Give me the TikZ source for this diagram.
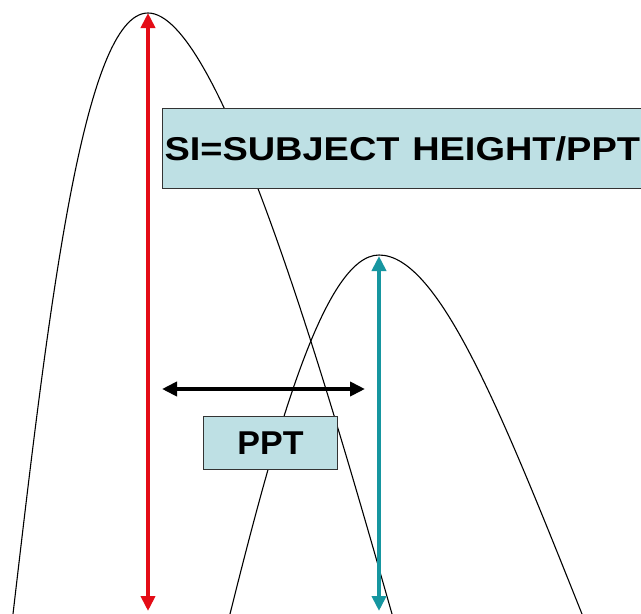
\documentclass[tikz,border=0pt]{standalone}
\usepackage{fontspec}
\setmainfont{Liberation Sans}
\usetikzlibrary{arrows.meta}
\definecolor{boxfill}{RGB}{190,224,228}
\definecolor{redarrow}{RGB}{228,12,22}
\definecolor{tealarrow}{RGB}{22,150,160}
\tikzset{
  curve/.style={draw=black, line width=1.1pt},
  labelbox/.style={draw=black!80, line width=1pt, fill=boxfill, font=\bfseries\fontsize{33}{33}\selectfont, inner sep=0pt},
  bigarrow/.style={line width=4.5pt, {Triangle[width=14pt,length=15pt]}-{Triangle[width=14pt,length=15pt]}},
}
\begin{document}
\begin{tikzpicture}[x=1pt,y=-1pt]
\useasboundingbox (0,0) rectangle (641,614);
\clip (0,0) rectangle (641,614);
\fill[white] (0,0) rectangle (641,614);
% left curve
\draw[curve] (13,614) .. controls (48,314) and (83,13) .. (148,13)
                      .. controls (218,13) and (321,364) .. (392,614);
% right curve
\draw[curve] (230,614) .. controls (275,434) and (324,255) .. (379,255)
                       .. controls (439,255) and (502,414) .. (582,614);
% boxes
\node[labelbox, anchor=north west, minimum width=500pt, minimum height=80pt, text width=496pt, align=left, inner xsep=2pt] (si) at (162,108) {\scalebox{1.15}[1]{SI=SUBJECT HEIGHT/PPT}};
\node[labelbox, anchor=north west, minimum width=134pt, minimum height=53pt] (ppt) at (203,416) {\scalebox{1.03}[1]{PPT}};
% arrows
\coordinate (rtop) at (148,13);
\coordinate (rbot) at (148,611);
\coordinate (ttop) at (379,256);
\coordinate (tbot) at (379,611);
\coordinate (pl) at (162,389);
\coordinate (pr) at (365,389);
\draw[bigarrow, redarrow] (rtop) -- (rbot);
\draw[bigarrow, tealarrow] (ttop) -- (tbot);
\draw[bigarrow, black] (pl) -- (pr);
\end{tikzpicture}
\end{document}
